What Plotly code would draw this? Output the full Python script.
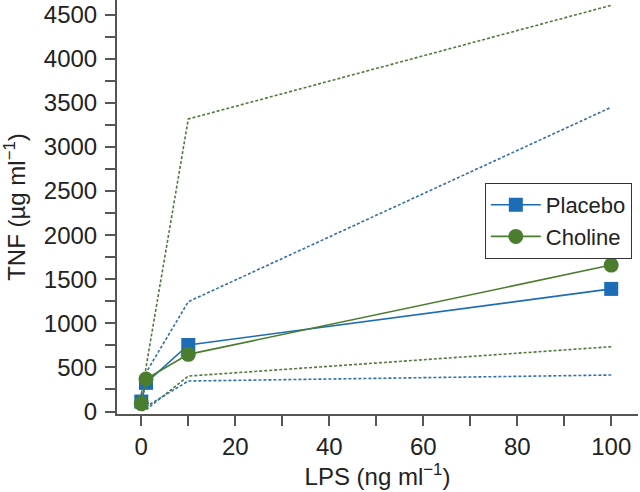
import plotly.graph_objects as go

lps = [0, 1, 10, 100]
placebo_mean = [113, 325, 754, 1390]
choline_mean = [90, 368, 648, 1660]
placebo_upper = [200, 440, 1245, 3449]
placebo_lower = [25, 55, 346, 414]
choline_upper = [180, 500, 3316, 4605]
choline_lower = [8, 20, 402, 735]

blue = "#1c6db5"
green = "#4b7d2e"
blue_dot = "#2f6fae"
green_dot = "#4f7a3c"
font = "Liberation Sans, Arial, sans-serif"
fs = 24

fig = go.Figure()
for ys, col in [(choline_upper, green_dot), (placebo_upper, blue_dot),
                (choline_lower, green_dot), (placebo_lower, blue_dot)]:
    fig.add_trace(go.Scatter(x=lps, y=ys, mode="lines", showlegend=False,
                             line=dict(color=col, width=1.6, dash="3px,2px"),
                             hoverinfo="skip"))

fig.add_trace(go.Scatter(x=lps, y=placebo_mean, mode="lines+markers", name="Placebo",
                         line=dict(color=blue, width=1.6),
                         marker=dict(symbol="square", size=14, color=blue)))
fig.add_trace(go.Scatter(x=lps, y=choline_mean, mode="lines+markers", name="Choline",
                         line=dict(color=green, width=1.6),
                         marker=dict(symbol="circle", size=15, color=green)))

axis_common = dict(showline=True, linecolor="#555555", linewidth=2, ticks="outside",
                   ticklen=10, tickwidth=1.5, tickcolor="#555555", showgrid=False,
                   zeroline=False, automargin=False,
                   tickfont=dict(family=font, size=fs, color="#222222"))

fig.update_layout(
    width=640, height=492,
    margin=dict(l=117, r=2, t=0, b=78),
    plot_bgcolor="white", paper_bgcolor="white",
    font=dict(family=font, size=fs, color="#222222"),
    xaxis=dict(range=[-5.17, 105.7], tickvals=[0, 20, 40, 60, 80, 100],
               minor=dict(tickvals=[10, 30, 50, 70, 90], ticks="outside", ticklen=10,
                          tickwidth=1.5, tickcolor="#555555"),
               title=dict(text="LPS (ng ml<sup>−1</sup>)", font=dict(family=font, size=fs), standoff=8),
               **axis_common),
    yaxis=dict(range=[-28, 4665], tickvals=list(range(0, 4501, 500)),
               minor=dict(tickvals=list(range(250, 4500, 500)), ticks="outside", ticklen=10,
                          tickwidth=1.5, tickcolor="#555555"),
               ticklabelstandoff=3,
               title=dict(text="TNF (µg ml<sup>−1</sup>)", font=dict(family=font, size=fs), standoff=14),
               **axis_common),
    legend=dict(x=0.706, y=0.558, xanchor="left", yanchor="top",
                bordercolor="#333333", borderwidth=1, bgcolor="white",
                font=dict(family=font, size=22), tracegroupgap=0,
                itemwidth=50, itemsizing="trace"),
    showlegend=True,
)

fig.write_html("out.html", config={"displayModeBar": False},
               post_script="document.body.style.margin='0';")
